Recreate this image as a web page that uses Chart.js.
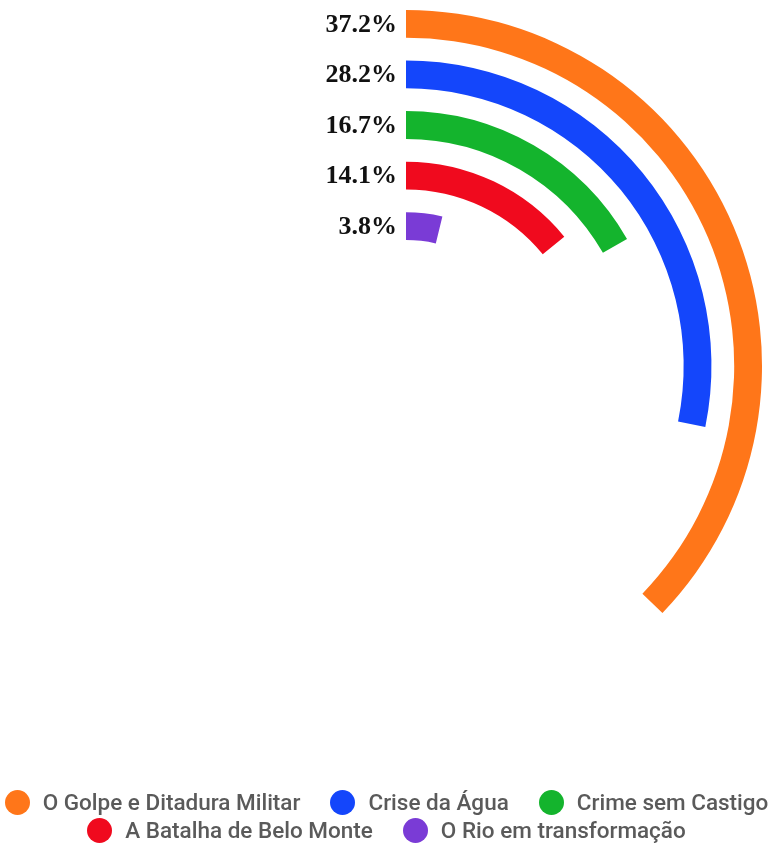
<!DOCTYPE html>
<html>
<head>
<meta charset="utf-8">
<script src="https://cdn.jsdelivr.net/npm/chart.js@4/dist/chart.umd.min.js"></script>
<style>
	body { margin: 0; background: #fff; }
	#wrap { position: relative; width: 773px; height: 843px; }
	#grafico { position: absolute; left: 0; top: 0; }
	#leyenda { position: absolute; left: 0; top: 788px; width: 773px; font-family: Roboto, sans-serif; font-size: 22.5px; font-weight: 500; color: #5a5a5a; }
	.fila { display: flex; justify-content: center; height: 28px; line-height: 28px; }
	.item { display: flex; align-items: center; margin: 0 15px; white-space: nowrap; }
	.punto { width: 25px; height: 25px; border-radius: 50%; margin-right: 13px; }
</style>
</head>
<body>
<div id="wrap">
	<canvas id="grafico" width="773" height="843"></canvas>
	<div id="leyenda"></div>
</div>
<script>
// documentarios e porcentagem de votos
const temas = ['O Golpe e Ditadura Militar', 'Crise da Água', 'Crime sem Castigo', 'A Batalha de Belo Monte', 'O Rio em transformação'];
const porcentagens = [37.2, 28.2, 16.7, 14.1, 3.8];
const cores = ['#ff7619', '#1446fb', '#14b42d', '#f00a1e', '#7a3bd6'];
const filasLeyenda = [[0, 1, 2], [3, 4]];

// um anel por tema, com aneis vazios entre eles para o espaco
const datasets = [];
porcentagens.forEach((p, i) => {
	if (i > 0) {
		datasets.push({ data: [100], backgroundColor: ['rgba(0,0,0,0)'], weight: 9, vazio: true });
	}
	datasets.push({
		label: temas[i],
		data: [p, 100 - p],
		backgroundColor: [cores[i], 'rgba(0,0,0,0)'],
		weight: 11
	});
});

const rotulos = {
	id: 'rotulos',
	afterDatasetsDraw(chart) {
		const ctx = chart.ctx;
		ctx.save();
		ctx.font = 'bold 26px "Liberation Serif", "Times New Roman", serif';
		ctx.fillStyle = '#111';
		ctx.textAlign = 'right';
		ctx.textBaseline = 'middle';
		chart.data.datasets.forEach((ds, i) => {
			if (ds.vazio) return;
			const arc = chart.getDatasetMeta(i).data[0];
			const r = (arc.innerRadius + arc.outerRadius) / 2;
			ctx.fillText(ds.data[0].toFixed(1) + '%', arc.x - 9, arc.y - r + 1);
		});
		ctx.restore();
	}
};

new Chart(document.getElementById('grafico'), {
	type: 'doughnut',
	data: { labels: ['valor', 'resto'], datasets: datasets },
	options: {
		responsive: false,
		animation: false,
		events: [],
		cutout: '35.4%',
		layout: { padding: { left: 50, right: 11, top: 10, bottom: 121 } },
		elements: { arc: { borderWidth: 0 } },
		plugins: {
			legend: { display: false },
			tooltip: { enabled: false }
		}
	},
	plugins: [rotulos]
});

// legenda em duas linhas
const leyenda = document.getElementById('leyenda');
filasLeyenda.forEach(fila => {
	const div = document.createElement('div');
	div.className = 'fila';
	fila.forEach(i => {
		const item = document.createElement('span');
		item.className = 'item';
		const punto = document.createElement('span');
		punto.className = 'punto';
		punto.style.background = cores[i];
		item.appendChild(punto);
		item.appendChild(document.createTextNode(temas[i]));
		div.appendChild(item);
	});
	leyenda.appendChild(div);
});
</script>
</body>
</html>
